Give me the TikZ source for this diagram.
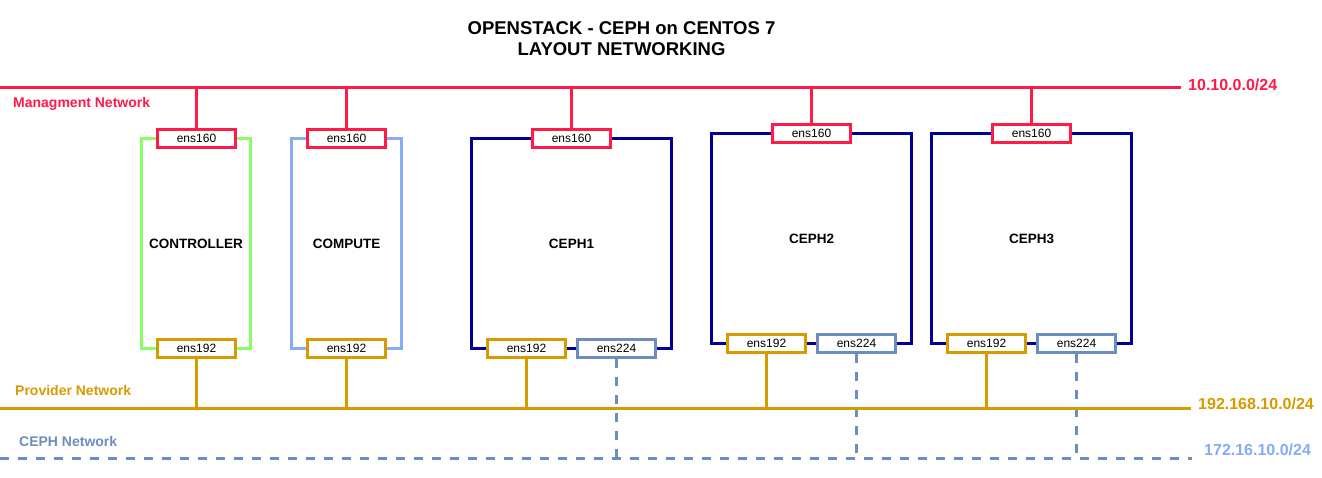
\documentclass[tikz,border=0pt]{standalone}
\usepackage{fontspec}
\setmainfont{Liberation Sans}
\definecolor{mred}{HTML}{FF1A47}
\definecolor{pgold}{HTML}{D79B00}
\definecolor{cblue}{HTML}{6C8EBF}
\definecolor{lblue}{HTML}{86ACF8}
\definecolor{dblue}{HTML}{000099}
\definecolor{lgreen}{HTML}{88FF66}
\tikzset{
  iface/.style={draw, line width=3pt, fill=white, minimum width=78pt, minimum height=18pt, inner sep=0pt, font=\fontsize{12}{14}\selectfont, text=black},
  mgmtif/.style={iface, draw=mred},
  provif/.style={iface, draw=pgold},
  cephif/.style={iface, draw=cblue},
  server/.style={draw, line width=3pt},
  srvlabel/.style={font=\bfseries\fontsize{13.5}{16}\selectfont, text=black},
  netlabel/.style={font=\bfseries\fontsize{14}{16}\selectfont, anchor=west, inner sep=0pt},
  addrlabel/.style={font=\bfseries\fontsize{16}{18}\selectfont, anchor=west, inner sep=0pt},
  mline/.style={draw=mred, line width=3pt},
  pline/.style={draw=pgold, line width=3pt},
  cline/.style={draw=cblue, line width=3pt, dash pattern=on 9pt off 9pt},
}
\begin{document}
\begin{tikzpicture}[x=1pt, y=-1pt]
\useasboundingbox (0,0) rectangle (1322,478);
\fill[white] (0,0) rectangle (1322,478);

% title
\node[font=\bfseries\fontsize{18.5}{21.5}\selectfont, align=center] (title) at (621.5,38.5) {OPENSTACK - CEPH on CENTOS 7\\LAYOUT NETWORKING};

% network lines
\coordinate (mgmtL) at (0,88);
\coordinate (mgmtR) at (1181,88);
\coordinate (provL) at (0,408);
\coordinate (provR) at (1191,408);
\coordinate (cephL) at (0,458);
\coordinate (cephR) at (1192,458);

% server boxes
\draw[server, draw=lgreen] (141.5,138.5) rectangle (250.5,348.5);
\draw[server, draw=lblue] (291.5,138.5) rectangle (401.5,348.5);
\draw[server, draw=dblue] (471.5,138.5) rectangle (671.5,348.5);
\draw[server, draw=dblue] (711.5,133.5) rectangle (911.5,343.5);
\draw[server, draw=dblue] (931.5,133.5) rectangle (1131.5,343.5);

\node[srvlabel] (ctrl) at (196,243.5) {CONTROLLER};
\node[srvlabel] (comp) at (346.5,243.5) {COMPUTE};
\node[srvlabel] (ceph1) at (571.5,243.5) {CEPH1};
\node[srvlabel] (ceph2) at (811.5,238.5) {CEPH2};
\node[srvlabel] (ceph3) at (1031.5,238.5) {CEPH3};

% interfaces
\node[mgmtif] (c160) at (196.5,138.5) {ens160};
\node[provif] (c192) at (196.5,348.5) {ens192};
\node[mgmtif] (p160) at (346.5,138.5) {ens160};
\node[provif] (p192) at (346.5,348.5) {ens192};
\node[mgmtif] (a160) at (571.5,138.5) {ens160};
\node[provif] (a192) at (526.5,348.5) {ens192};
\node[cephif] (a224) at (616.5,348.5) {ens224};
\node[mgmtif] (b160) at (811.5,133.5) {ens160};
\node[provif] (b192) at (766.5,343.5) {ens192};
\node[cephif] (b224) at (856.5,343.5) {ens224};
\node[mgmtif] (d160) at (1031.5,133.5) {ens160};
\node[provif] (d192) at (986.5,343.5) {ens192};
\node[cephif] (d224) at (1076.5,343.5) {ens224};

% drops
\foreach \n in {c160,p160,a160,b160,d160}
  \draw[mline] (\n.north) -- (\n.north |- mgmtL);
\foreach \n in {c192,p192,a192,b192,d192}
  \draw[pline] (\n.south) -- (\n.south |- provL);
\foreach \n in {a224,b224,d224}
  \draw[cline] (\n.south) -- (\n.south |- cephL);

\draw[mline] (mgmtL) -- (mgmtR);
\draw[pline] (provL) -- (provR);
\draw[cline] (cephL) -- (cephR);

% labels
\node[netlabel, text=mred] (mgmtlbl) at (13,104) {Managment Network};
\node[netlabel, text=pgold] (provlbl) at (15,390) {Provider Network};
\node[netlabel, text=cblue] (cephlbl) at (19,441) {CEPH Network};
\node[addrlabel, text=mred] (mgmtaddr) at (1188,85) {10.10.0.0/24};
\node[addrlabel, text=pgold] (provaddr) at (1198,404) {192.168.10.0/24};
\node[addrlabel, text=lblue] (cephaddr) at (1204,450) {172.16.10.0/24};
\end{tikzpicture}
\end{document}
